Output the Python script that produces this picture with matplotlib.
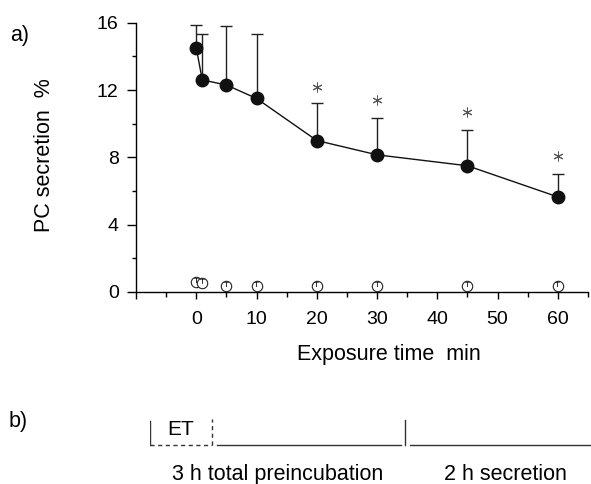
import matplotlib as mpl
mpl.use('Agg')
import matplotlib.pyplot as plt

# Panel a data: PC secretion (%) vs exposure time (min)
time_min = [0, 1, 5, 10, 20, 30, 45, 60]
pc_mean = [14.5, 12.6, 12.3, 11.5, 9.0, 8.15, 7.5, 5.65]
pc_sd = [1.35, 2.7, 3.5, 3.85, 2.2, 2.2, 2.1, 1.35]
ctrl_time = [0, 1, 5, 10, 20, 30, 45, 60]
ctrl_mean = [0.6, 0.55, 0.38, 0.38, 0.38, 0.38, 0.38, 0.38]
signif_time = [20, 30, 45, 60]
signif_y = [12.2, 11.4, 10.7, 8.1]

xtick_major = [-10, 0, 10, 20, 30, 40, 50, 60]
xtick_labels = ['', '0', '10', '20', '30', '40', '50', '60']
xtick_minor = [-5, 5, 15, 25, 35, 45, 55, 65]
ytick_major = [0, 4, 8, 12, 16]
ytick_minor = [2, 6, 10, 14]

# Panel b schematic (hours)
et_end = 0.73
preinc_line = [0.785, 2.95]
separator_h = 3.0
secretion_line = [3.06, 5.19]
phase_labels = ['3 h total preincubation', '2 h secretion']
phase_label_x = [1.5, 4.18]

mpl.rcParams['font.family'] = ['Liberation Sans', 'DejaVu Sans']
mpl.rcParams['font.size'] = 15.5
mpl.rcParams['xtick.labelsize'] = 14
mpl.rcParams['ytick.labelsize'] = 14
mpl.rcParams['axes.linewidth'] = 1.0
mpl.rcParams['axes.spines.top'] = False
mpl.rcParams['axes.spines.right'] = False

fig = plt.figure(figsize=(5.91, 4.84), dpi=100)
ax = fig.add_axes([0.2301, 0.3967, 0.7648, 0.5564])

# main curve with one-sided error bars
ax.errorbar(time_min, pc_mean, yerr=[[0] * len(pc_sd), pc_sd], fmt='none',
            ecolor='#222222', elinewidth=1.0, capsize=4.6, capthick=1.0, zorder=2)
ax.plot(time_min, pc_mean, color='#111111', lw=1.0, marker='o', ms=9,
        mfc='#111111', mec='#111111', zorder=3)

# control points (open circles with T)
ax.plot(ctrl_time, ctrl_mean, ls='none', marker='o', ms=7.5, mfc='white',
        mec='#222222', mew=0.8, zorder=3, clip_on=False)
for t, m in zip(ctrl_time, ctrl_mean):
    ax.text(t, m, 'T', fontsize=6, ha='center', va='center', zorder=4)

# significance asterisks
ax.plot(signif_time, signif_y, ls='none', marker=(6, 2, 0), ms=7,
        color='#555555', mew=0.7)

ax.set_xlim(-10, 65)
ax.set_ylim(0, 16)
ax.set_xticks(xtick_major, labels=xtick_labels)
ax.set_xticks(xtick_minor, minor=True)
ax.set_yticks(ytick_major)
ax.set_yticks(ytick_minor, minor=True)
ax.tick_params(axis='x', which='major', length=5, width=1, pad=9)
ax.tick_params(axis='x', which='minor', length=3.6, width=1)
ax.tick_params(axis='y', which='major', length=6.5, width=1, pad=6)
ax.tick_params(axis='y', which='minor', length=3.2, width=1)

ax.set_xlabel('Exposure time  min')
ax.xaxis.set_label_coords(0.5586, -0.193)
ax.set_ylabel('PC secretion  %')
ax.yaxis.set_label_coords(-0.18, 0.51)

fig.text(0.017, 0.916, 'a)', ha='left', va='baseline')
fig.text(0.014, 0.1178, 'b)', ha='left', va='baseline')

# Panel b: timeline schematic
axb = fig.add_axes([150 / 591, 0, 441 / 591, 84 / 484])
axb.set_xlim(0, 441 / 85)
axb.set_ylim(-1.61, 1.82)
axb.axis('off')
lc = '#333333'
axb.plot([0, 0], [0, 0.96], color=lc, lw=1.0)
axb.plot([0, et_end], [0, 0], color=lc, lw=1.0, ls=(0, (3, 2.5)))
axb.plot([et_end, et_end], [0, 1.04], color=lc, lw=1.0, ls=(0, (3, 2.5)))
axb.plot(preinc_line, [0, 0], color=lc, lw=1.0)
axb.plot([separator_h, separator_h], [0, 1.0], color=lc, lw=1.0)
axb.plot(secretion_line, [0, 0], color=lc, lw=1.0)
axb.text(et_end / 2, 0.39, 'ET', ha='center', va='baseline', fontsize=15)
for lab, xpos in zip(phase_labels, phase_label_x):
    axb.text(xpos, -1.45, lab, ha='center', va='baseline')

fig.savefig('out.png', dpi=100)
